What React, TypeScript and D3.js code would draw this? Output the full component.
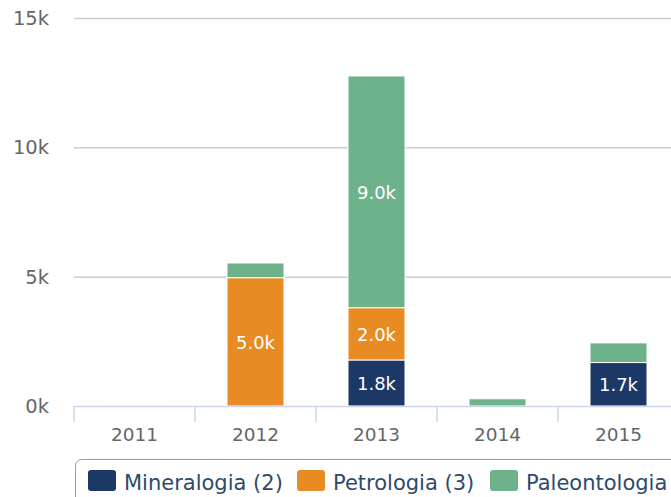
import React, { useRef, useEffect } from "react";
import * as d3 from "d3";

const years = ["2011", "2012", "2013", "2014", "2015"];
const seriesNames = ["Mineralogia (2)", "Petrologia (3)", "Paleontologia"];
const mineralogia = [0, 0, 1780, 0, 1680];
const petrologia = [0, 4960, 2020, 0, 0];
const paleontologia = [15, 570, 8960, 280, 760];
const colors = ["#1b3866", "#e88b22", "#6db28b"];
const yTicks = [0, 5000, 10000, 15000];

const App = () => {
  const ref = useRef<HTMLDivElement>(null);

  useEffect(() => {
    const W = 671;
    const H = 497;
    const font = "DejaVu Sans, sans-serif";

    d3.select(ref.current).select("svg").remove();
    const svg = d3
      .select(ref.current)
      .append("svg")
      .attr("width", W)
      .attr("height", H)
      .style("position", "absolute")
      .style("left", "0px")
      .style("top", "0px")
      .style("font-family", font);

    const x = d3.scaleBand().domain(years).range([74, 679]).paddingInner(0).paddingOuter(0);
    const y = d3.scaleLinear().domain([0, 15000]).range([406, 18]);

    // gridlines
    svg
      .append("g")
      .selectAll("line")
      .data(yTicks.filter((t) => t > 0))
      .enter()
      .append("line")
      .attr("x1", 74)
      .attr("x2", W)
      .attr("y1", (d) => y(d) + 0.5)
      .attr("y2", (d) => y(d) + 0.5)
      .attr("stroke", "#cccccc")
      .attr("stroke-width", 1.5);

    svg
      .append("g")
      .selectAll("text")
      .data(yTicks)
      .enter()
      .append("text")
      .attr("x", 49)
      .attr("y", (d) => y(d) + 7)
      .attr("text-anchor", "end")
      .attr("fill", "#666666")
      .style("font-size", "19.5px")
      .text((d) => `${d / 1000}k`);

    const table = years.map((yr, i) => ({
      year: yr,
      m: mineralogia[i],
      p: petrologia[i],
      g: paleontologia[i],
    }));
    const stack = d3.stack<any>().keys(["m", "p", "g"]);
    const layers = stack(table);

    layers.forEach((layer, li) => {
      const g = svg.append("g");
      g.selectAll("rect")
        .data(layer.filter((d) => d[1] - d[0] > 0))
        .enter()
        .append("rect")
        .attr("x", (d) => (x(d.data.year) as number) + x.bandwidth() / 2 - 28.5)
        .attr("width", 57)
        .attr("y", (d) => y(d[1]))
        .attr("height", (d) => Math.max(y(d[0]) - y(d[1]), 1))
        .attr("fill", colors[li])
        .attr("stroke", "#ffffff")
        .attr("stroke-width", 1);
      g.selectAll("text")
        .data(layer.filter((d) => d[1] - d[0] >= 1000))
        .enter()
        .append("text")
        .attr("x", (d) => (x(d.data.year) as number) + x.bandwidth() / 2)
        .attr("y", (d) => (y(d[0]) + y(d[1])) / 2 + 7)
        .attr("text-anchor", "middle")
        .attr("fill", "#ffffff")
        .style("font-size", "18px")
        .text((d) => `${((d[1] - d[0]) / 1000).toFixed(1)}k`);
    });

    // x axis
    svg
      .append("line")
      .attr("x1", 74)
      .attr("x2", W)
      .attr("y1", 406.5)
      .attr("y2", 406.5)
      .attr("stroke", "#ccd6eb")
      .attr("stroke-width", 1.5);
    const ticks = years.map((yr) => x(yr) as number).concat([679]);
    svg
      .append("g")
      .selectAll("line")
      .data(ticks)
      .enter()
      .append("line")
      .attr("x1", (d) => d)
      .attr("x2", (d) => d)
      .attr("y1", 406)
      .attr("y2", 422)
      .attr("stroke", "#ccd6eb")
      .attr("stroke-width", 1.5);
    svg
      .append("g")
      .selectAll("text")
      .data(years)
      .enter()
      .append("text")
      .attr("x", (d) => (x(d) as number) + x.bandwidth() / 2)
      .attr("y", 441)
      .attr("text-anchor", "middle")
      .attr("fill", "#666666")
      .style("font-size", "18.5px")
      .text((d) => d);

    // legend
    svg
      .append("rect")
      .attr("x", 75.5)
      .attr("y", 459.5)
      .attr("width", 640)
      .attr("height", 60)
      .attr("rx", 6)
      .attr("fill", "none")
      .attr("stroke", "#999999")
      .attr("stroke-width", 1);
    const legendX = [88, 297, 490];
    seriesNames.forEach((name, i) => {
      svg
        .append("rect")
        .attr("x", legendX[i])
        .attr("y", 470)
        .attr("width", 28)
        .attr("height", 21)
        .attr("rx", 3)
        .attr("fill", colors[i]);
      svg
        .append("text")
        .attr("x", legendX[i] + 36)
        .attr("y", 490)
        .attr("fill", "#2e4a6b")
        .style("font-size", "21px")
        .text(name);
    });
  }, []);

  return <div ref={ref}></div>;
};

export default App;
